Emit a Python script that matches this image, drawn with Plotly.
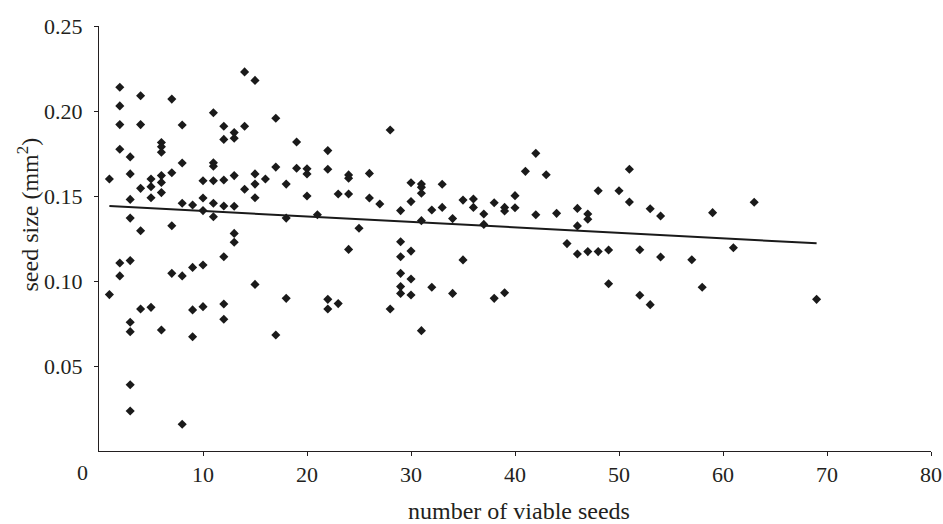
import plotly.graph_objects as go

# number of viable seeds (x) and seed size in mm^2 (y)
seeds = [
    1, 1,
    2, 2, 2, 2, 2, 2,
    3, 3, 3, 3, 3, 3, 3, 3, 3,
    4, 4, 4, 4, 4,
    5, 5, 5, 5,
    6, 6, 6, 6, 6, 6, 6,
    7, 7, 7, 7,
    8, 8, 8, 8, 8,
    9, 9, 9, 9,
    10, 10, 10, 10, 10,
    11, 11, 11, 11, 11, 11,
    12, 12, 12, 12, 12, 12, 12,
    13, 13, 13, 13, 13, 13,
    14, 14, 14,
    15, 15, 15, 15, 15,
    16,
    17, 17, 17,
    18, 18, 18,
    19, 19,
    20, 20, 20,
    21,
    22, 22, 22, 22,
    23, 23,
    24, 24, 24, 24,
    25,
    26, 26,
    27,
    28, 28,
    29, 29, 29, 29, 29, 29,
    30, 30, 30, 30, 30,
    31, 31, 31, 31, 31,
    32, 32,
    33, 33,
    34, 34,
    35, 35,
    36, 36,
    37, 37,
    38, 38,
    39, 39, 39,
    40, 40,
    41,
    42, 42,
    43,
    44,
    45,
    46, 46, 46,
    47, 47, 47,
    48, 48,
    49, 49,
    50,
    51, 51,
    52, 52,
    53, 53,
    54, 54,
    57,
    58,
    59,
    61,
    63,
    69,
]
seed_size = [
    0.160, 0.092,
    0.214, 0.203, 0.192, 0.1775, 0.1106, 0.103,
    0.173, 0.163, 0.148, 0.137, 0.112, 0.0757, 0.0702, 0.039, 0.0235,
    0.209, 0.192, 0.1545, 0.1296, 0.0835,
    0.160, 0.1555, 0.149, 0.0845,
    0.1815, 0.179, 0.1757, 0.162, 0.158, 0.152, 0.0712,
    0.207, 0.1637, 0.1325, 0.1045,
    0.1918, 0.1694, 0.1457, 0.103, 0.0157,
    0.1447, 0.108, 0.083, 0.0672,
    0.159, 0.1488, 0.1414, 0.1094, 0.0849,
    0.199, 0.1695, 0.1675, 0.159, 0.1457, 0.1378,
    0.191, 0.1833, 0.1594, 0.1441, 0.1143, 0.0865, 0.0775,
    0.1873, 0.184, 0.162, 0.144, 0.128, 0.1228,
    0.223, 0.191, 0.154,
    0.218, 0.163, 0.157, 0.149, 0.098,
    0.160,
    0.1957, 0.167, 0.0682,
    0.157, 0.137, 0.0898,
    0.1818, 0.1663,
    0.166, 0.163, 0.150,
    0.139,
    0.1767, 0.1657, 0.0892, 0.0835,
    0.1512, 0.0867,
    0.1624, 0.1604, 0.1512, 0.1186,
    0.131,
    0.1633, 0.1488,
    0.1453,
    0.1888, 0.0835,
    0.1414, 0.1231, 0.1143, 0.1045, 0.0967, 0.0927,
    0.1578, 0.1467, 0.1176, 0.1012, 0.0918,
    0.157, 0.1551, 0.1516, 0.1355, 0.0708,
    0.1418, 0.0963,
    0.1569, 0.1433,
    0.1367, 0.0927,
    0.1476, 0.1124,
    0.1482, 0.1433,
    0.1394, 0.1333,
    0.146, 0.0898,
    0.1433, 0.1412, 0.0931,
    0.1502, 0.1431,
    0.1645,
    0.1751, 0.139,
    0.1625,
    0.1398,
    0.122,
    0.1427, 0.1324, 0.1159,
    0.1394, 0.1363, 0.1173,
    0.1531, 0.1173,
    0.1182, 0.0984,
    0.1531,
    0.1657, 0.1465,
    0.1184, 0.0916,
    0.1425, 0.0861,
    0.1382, 0.1141,
    0.1125,
    0.0963,
    0.1402,
    0.1196,
    0.1463,
    0.0892,
]

# regression line end points
trend_x = [1, 69]
trend_y = [0.1441, 0.1222]

x_ticks = [10, 20, 30, 40, 50, 60, 70, 80]
y_ticks = [0.05, 0.10, 0.15, 0.20, 0.25]
y_tick_labels = ["0.05", "0.10", "0.15", "0.20", "0.25"]

font_family = "Liberation Serif, Times New Roman, serif"
ink = "#231f20"
FS_TICK = 22
FS_TITLE = 24

fig = go.Figure()
fig.add_trace(go.Scatter(
    x=seeds, y=seed_size, mode="markers",
    marker=dict(symbol="diamond", size=7, color="#1a1a1a", line=dict(width=0)),
    showlegend=False, cliponaxis=False,
))
fig.add_trace(go.Scatter(
    x=trend_x, y=trend_y, mode="lines",
    line=dict(color="#1a1a1a", width=2),
    showlegend=False,
))

fig.update_layout(
    width=943, height=524,
    margin=dict(l=99, r=12, t=26, b=73, autoexpand=False),
    paper_bgcolor="white", plot_bgcolor="white",
    font=dict(family=font_family, size=FS_TICK, color=ink),
    xaxis=dict(
        range=[0, 80], tickvals=x_ticks, showgrid=False, zeroline=False,
        showline=True, linecolor=ink, linewidth=1, automargin=False,
        ticks="outside", ticklen=4, tickcolor=ink, ticklabeloverflow="allow",
        tickfont=dict(family=font_family, size=FS_TICK, color=ink),
    ),
    yaxis=dict(
        range=[0, 0.25], tickvals=y_ticks, ticktext=y_tick_labels,
        showgrid=False, zeroline=False, automargin=False,
        showline=True, linecolor=ink, linewidth=1,
        ticks="outside", ticklen=4, tickcolor=ink, ticklabelstandoff=7,
        tickfont=dict(family=font_family, size=FS_TICK, color=ink),
    ),
)
# axis titles placed to match the reference
fig.add_annotation(
    text="number of viable seeds", xref="paper", yref="paper",
    x=0.505, y=0, yshift=-60, showarrow=False,
    font=dict(family=font_family, size=FS_TITLE, color=ink),
    xanchor="center", yanchor="middle",
)
fig.add_annotation(
    text="seed size (mm<sup>2</sup>)", xref="paper", yref="paper",
    x=-0.0853, y=0.5565, textangle=-90, showarrow=False,
    font=dict(family=font_family, size=FS_TITLE, color=ink),
    xanchor="center", yanchor="middle",
)
fig.add_annotation(
    text="0", xref="paper", yref="paper", x=-0.0204, y=0, yshift=-21.5,
    showarrow=False, font=dict(family=font_family, size=FS_TICK, color=ink),
    xanchor="center", yanchor="middle",
)

# remove the default page margin so the figure fills the window exactly
fig.write_html(
    "out.html",
    config={"displayModeBar": False},
    post_script="document.body.style.margin='0';document.body.style.overflow='hidden';",
)
